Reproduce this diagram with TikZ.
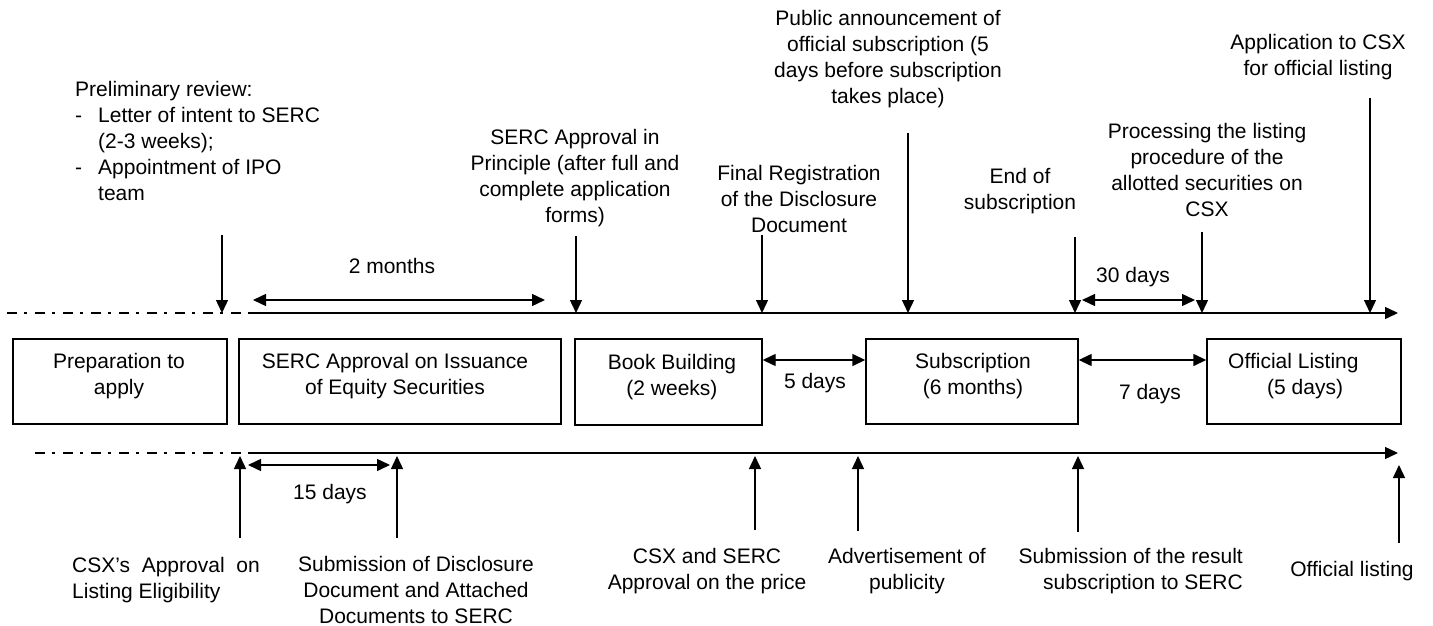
\documentclass[tikz,border=0pt]{standalone}
\usepackage{fontspec}
\setmainfont{Liberation Sans}
\usetikzlibrary{arrows.meta}
\begin{document}
\begin{tikzpicture}[x=1pt,y=-1pt,
  txt/.style={font=\fontsize{21}{26}\selectfont, align=center, inner sep=0pt},
  box/.style={draw, line width=1.4pt, minimum height=85pt, inner sep=0pt},
  arr/.style={line width=1.4pt, -{Triangle[length=13pt,width=12pt]}},
  darr/.style={line width=1.4pt, {Triangle[length=13pt,width=12pt]}-{Triangle[length=13pt,width=12pt]}},
  dd/.style={line width=1.4pt, dash pattern=on 10pt off 7pt on 3pt off 8pt}]
\useasboundingbox (0,0) rectangle (1433,626);

% timelines
\coordinate (t0) at (7,313);
\coordinate (t1) at (248,313);
\coordinate (tend) at (1398,313);
\coordinate (u0) at (35,453);
\coordinate (u1) at (248,453);
\coordinate (uend) at (1398,453);
\draw[dd] (t0) -- (t1);
\draw[arr] (t1) -- (tend);
\draw[dd] (u0) -- (u1);
\draw[arr] (u1) -- (uend);

% boxes
\node[box, minimum width=214pt] (b1) at (120,381.5) {};
\node[box, minimum width=322pt] (b2) at (400,381.5) {};
\node[box, minimum width=187pt, minimum height=86pt] (b3) at (668.5,382) {};
\node[box, minimum width=212pt] (b4) at (972,381.5) {};
\node[box, minimum width=194pt] (b5) at (1304,381.5) {};
\node[txt] (b1t) at (119,376.5) {Preparation to\\apply};
\node[txt] (b2t) at (395,376.5) {SERC Approval on Issuance\\of Equity Securities};
\node[txt] (b3t) at (672,377.5) {Book Building\\(2 weeks)};
\node[txt] (b4t) at (973,376.5) {Subscription\\(6 months)};
\node[txt, align=left, anchor=west] (b5t) at (1228,376.5) {Official Listing\\\hspace*{39pt}(5 days)};

% between-box arrows
\draw[darr] (b3.east |- 0,360) -- (b4.west |- 0,360);
\node[txt] (d5) at (815,383) {5 days};
\draw[darr] (b4.east |- 0,360) -- (b5.west |- 0,360);
\node[txt] (d7) at (1150,394) {7 days};

% top labels
\node[txt, align=left, anchor=west] (prelim) at (75,141) {Preliminary review:\\
\makebox[23pt][l]{-}Letter of intent to SERC\\
\hspace*{23pt}(2-3 weeks);\\
\makebox[23pt][l]{-}Appointment of IPO\\
\hspace*{23pt}team};
\node[txt] (aip) at (575,178) {SERC Approval in\\Principle (after full and\\complete application\\forms)};
\node[txt] (freg) at (799,198.5) {Final Registration\\of the Disclosure\\Document};
\node[txt] (pub) at (888,59.5) {Public announcement of\\official subscription (5\\days before subscription\\takes place)};
\node[txt] (eos) at (1020,191.5) {End of\\subscription};
\node[txt] (proc) at (1207,170) {Processing the listing\\procedure of the\\allotted securities on\\CSX};
\node[txt] (appl) at (1318,57.5) {Application to CSX\\for official listing};

\coordinate (a1s) at (222,235);  \coordinate (a1e) at (222,313);
\coordinate (a2s) at (576,236);  \coordinate (a2e) at (576,313);
\coordinate (a3s) at (762,235);  \coordinate (a3e) at (762,313);
\coordinate (a4s) at (908,133);  \coordinate (a4e) at (908,313);
\coordinate (a5s) at (1075,237); \coordinate (a5e) at (1075,313);
\coordinate (a6s) at (1202,232); \coordinate (a6e) at (1202,313);
\coordinate (a7s) at (1370,98);  \coordinate (a7e) at (1370,313);
\draw[arr] (a1s) -- (a1e);
\draw[arr] (a2s) -- (a2e);
\draw[arr] (a3s) -- (a3e);
\draw[arr] (a4s) -- (a4e);
\draw[arr] (a5s) -- (a5e);
\draw[arr] (a6s) -- (a6e);
\draw[arr] (a7s) -- (a7e);

% top duration arrows
\coordinate (m2a) at (253,300); \coordinate (m2b) at (545,300);
\draw[darr] (m2a) -- (m2b);
\node[txt] (m2) at (392,266) {2 months};
\coordinate (d30a) at (1082,300); \coordinate (d30b) at (1195,300);
\draw[darr] (d30a) -- (d30b);
\node[txt] (d30) at (1133,277) {30 days};

% bottom arrows
\coordinate (c1s) at (240,538);  \coordinate (c1e) at (240,456);
\coordinate (c2s) at (397,538);  \coordinate (c2e) at (397,456);
\coordinate (c3s) at (755,530);  \coordinate (c3e) at (755,456);
\coordinate (c4s) at (858,531);  \coordinate (c4e) at (858,456);
\coordinate (c5s) at (1078,532); \coordinate (c5e) at (1078,456);
\coordinate (c6s) at (1399,543); \coordinate (c6e) at (1399,465);
\draw[arr] (c1s) -- (c1e);
\draw[arr] (c2s) -- (c2e);
\draw[arr] (c3s) -- (c3e);
\draw[arr] (c4s) -- (c4e);
\draw[arr] (c5s) -- (c5e);
\draw[arr] (c6s) -- (c6e);

\coordinate (d15a) at (248,465); \coordinate (d15b) at (390,465);
\draw[darr] (d15a) -- (d15b);
\node[txt] (d15) at (330,494) {15 days};

% bottom labels
\node[txt, align=left, anchor=west] (csxa) at (72,580.5) {CSX's\ \ Approval\ \ on\\Listing Eligibility};
\node[txt] (subd) at (416,590) {Submission of Disclosure\\Document and Attached\\Documents to SERC};
\node[txt] (price) at (707,571.5) {CSX and SERC\\Approval on the price};
\node[txt] (adv) at (907,571.5) {Advertisement of\\publicity};
\node[txt, align=right, anchor=east] (subr) at (1243,571.5) {Submission of the result\\subscription to SERC};
\node[txt] (offl) at (1352,571) {Official listing};
\end{tikzpicture}
\end{document}
